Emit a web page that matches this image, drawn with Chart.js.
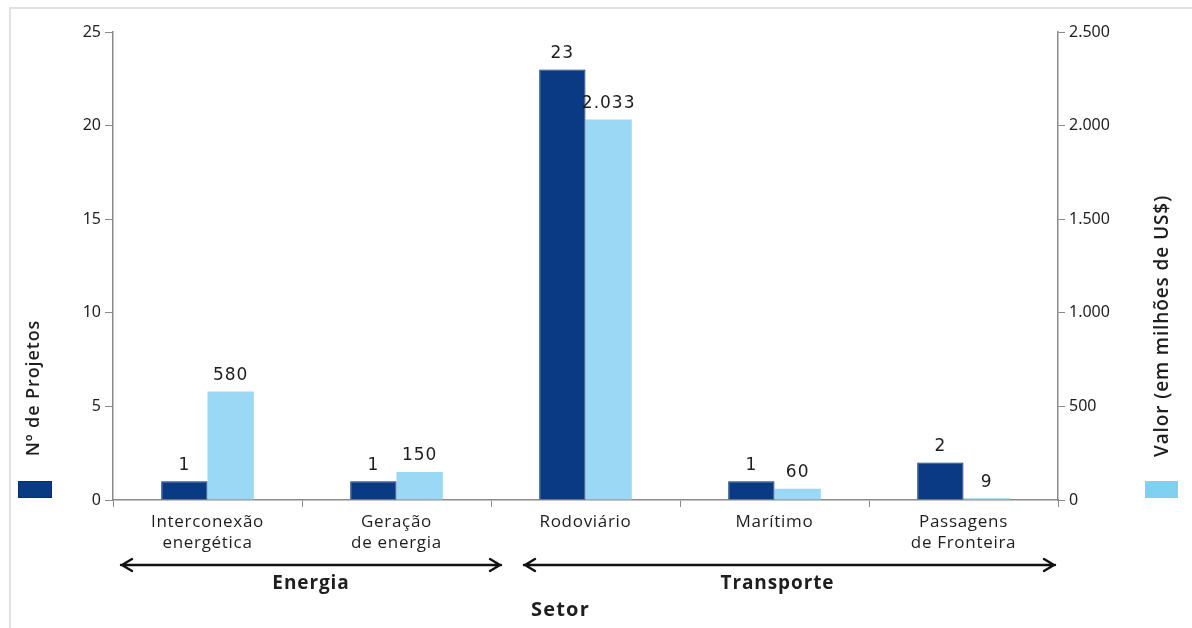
<!DOCTYPE html>
<html lang="pt-BR">
<head>
<meta charset="utf-8">
<script src="https://cdn.jsdelivr.net/npm/chart.js@4/dist/chart.umd.min.js"></script>
<style>
  html, body { margin: 0; padding: 0; background: #ffffff; }
  #wrap { width: 1192px; height: 628px; position: relative; }
</style>
</head>
<body>
<div id="wrap"><canvas id="grafico" width="1192" height="628"></canvas></div>
<script>
// Setores (rótulos do eixo X, em duas linhas quando necessário)
const setores = [
  ['Interconexão', 'energética'],
  ['Geração', 'de energia'],
  ['Rodoviário'],
  ['Marítimo'],
  ['Passagens', 'de Fronteira']
];
// Número de projetos por setor (eixo esquerdo)
const numeroProjetos = [1, 1, 23, 1, 2];
// Valor em milhões de US$ por setor (eixo direito)
const valorMilhoes = [580, 150, 2033, 60, 9];
// Marcas dos eixos
const ticksProjetos = [0, 5, 10, 15, 20, 25];
const ticksValor = [0, 500, 1000, 1500, 2000, 2500];
// Grupos de setores: índice inicial e final
const grupoNomes = ['Energia', 'Transporte'];
const grupoInicio = [0, 2];
const grupoFim = [1, 4];

const AZUL_ESCURO = '#0b3a84';
const AZUL_CLARO = '#9bd8f6';
const CINZA_EIXO = '#8a8a8a';
const TEXTO = '#1e1e1e';

function milhar(v) {
  return String(v).replace(/\B(?=(\d{3})+(?!\d))/g, '.');
}

function texto(ctx, s, x, y, font, spacing, align) {
  ctx.save();
  ctx.font = font;
  ctx.letterSpacing = (spacing || 0) + 'px';
  ctx.fillStyle = TEXTO;
  ctx.textAlign = align || 'center';
  ctx.textBaseline = 'middle';
  ctx.fillText(s, x, y);
  ctx.restore();
}

function seta(ctx, x1, x2, y) {
  ctx.save();
  ctx.strokeStyle = '#111';
  ctx.lineWidth = 2.4;
  ctx.lineCap = 'round';
  ctx.lineJoin = 'round';
  ctx.beginPath();
  ctx.moveTo(x1, y); ctx.lineTo(x2, y);
  ctx.moveTo(x1 + 11, y - 6); ctx.lineTo(x1 + 1, y); ctx.lineTo(x1 + 11, y + 6);
  ctx.moveTo(x2 - 11, y - 6); ctx.lineTo(x2 - 1, y); ctx.lineTo(x2 - 11, y + 6);
  ctx.stroke();
  ctx.restore();
}

const decoracao = {
  id: 'decoracao',
  beforeDraw(chart) {
    const ctx = chart.ctx;
    ctx.save();
    ctx.fillStyle = '#ffffff';
    ctx.fillRect(0, 0, chart.width, chart.height);
    // moldura
    ctx.strokeStyle = '#e2e2e2';
    ctx.lineWidth = 2;
    ctx.beginPath();
    ctx.moveTo(10, 628); ctx.lineTo(10, 8); ctx.lineTo(1192, 8);
    ctx.stroke();
    ctx.restore();
  },
  afterDatasetsDraw(chart) {
    const ctx = chart.ctx;
    const x = chart.scales.x;
    const area = chart.chartArea;

    // rótulos de valor sobre as barras
    chart.data.datasets.forEach((ds, di) => {
      const meta = chart.getDatasetMeta(di);
      meta.data.forEach((bar, i) => {
        texto(ctx, milhar(ds.data[i]), bar.x, bar.y - 16,
          '17px "DejaVu Sans"', 1, 'center');
      });
    });

    // rótulos das categorias
    setores.forEach((linhas, i) => {
      const cx = x.getPixelForValue(i);
      linhas.forEach((l, k) => {
        texto(ctx, l, cx, area.bottom + 22 + k * 21, '17px "Open Sans"', 0.7, 'center');
      });
    });

    // setas e nomes dos grupos
    const passo = (area.right - area.left) / setores.length;
    grupoNomes.forEach((nome, g) => {
      const ini = x.getPixelForValue(grupoInicio[g]) - passo / 2;
      const fim = x.getPixelForValue(grupoFim[g]) + passo / 2;
      const x1 = g === 0 ? ini + 8 : ini + 33;
      const x2 = g === 0 ? fim + 10 : fim - 3;
      seta(ctx, x1, x2, area.bottom + 65);
      texto(ctx, nome, (x1 + x2) / 2 + (g === 0 ? 0 : -12), area.bottom + 84,
        'bold 19px "Open Sans"', 0.9, 'center');
    });
    texto(ctx, 'Setor', (area.left + area.right) / 2 - 25, area.bottom + 110,
      'bold 20px "Open Sans"', 1.2, 'center');

    // títulos dos eixos (verticais)
    ctx.save();
    ctx.translate(34, 388);
    ctx.rotate(-Math.PI / 2);
    texto(ctx, 'Nº de Projetos', 0, 0, '600 18px "Open Sans"', 0.9, 'center');
    ctx.restore();
    ctx.save();
    ctx.translate(1163, 326);
    ctx.rotate(-Math.PI / 2);
    texto(ctx, 'Valor (em milhões de US$)', 0, 0, '600 19px "Open Sans"', 0.9, 'center');
    ctx.restore();

    // marcadores de legenda
    ctx.save();
    ctx.fillStyle = AZUL_ESCURO;
    ctx.fillRect(18, 481, 34, 17);
    ctx.strokeStyle = '#06306e';
    ctx.lineWidth = 1;
    ctx.strokeRect(18.5, 481.5, 33, 16);
    ctx.fillStyle = '#7fd0f1';
    ctx.fillRect(1145, 481, 33, 17);
    ctx.restore();
  }
};

new Chart(document.getElementById('grafico'), {
  type: 'bar',
  data: {
    labels: setores.map(l => l.join(' ')),
    datasets: [
      {
        label: 'Nº de Projetos',
        data: numeroProjetos,
        yAxisID: 'y',
        backgroundColor: AZUL_ESCURO,
        borderColor: '#06306e',
        borderWidth: 1,
        categoryPercentage: 0.49,
        barPercentage: 1
      },
      {
        label: 'Valor (em milhões de US$)',
        data: valorMilhoes,
        yAxisID: 'y1',
        backgroundColor: AZUL_CLARO,
        borderWidth: 0,
        categoryPercentage: 0.49,
        barPercentage: 1
      }
    ]
  },
  options: {
    responsive: false,
    animation: false,
    devicePixelRatio: 1,
    layout: { padding: { top: 32, left: 0, right: 0, bottom: 0 } },
    plugins: {
      legend: { display: false },
      tooltip: { enabled: false },
      title: { display: false }
    },
    scales: {
      x: {
        offset: true,
        ticks: { display: false },
        grid: {
          offset: true,
          drawOnChartArea: false,
          drawTicks: true,
          tickLength: 7,
          color: CINZA_EIXO
        },
        border: { color: CINZA_EIXO, width: 1.5 },
        afterFit(s) { s.height = 128; }
      },
      y: {
        position: 'left',
        min: 0,
        max: 25,
        afterBuildTicks(s) { s.ticks = ticksProjetos.map(v => ({ value: v })); },
        ticks: {
          font: { family: '"Noto Sans"', size: 16 },
          color: TEXTO,
          padding: 4
        },
        grid: { drawOnChartArea: false, tickLength: 8, color: CINZA_EIXO },
        border: { color: CINZA_EIXO, width: 1.5 },
        afterFit(s) { s.width = 113; }
      },
      y1: {
        position: 'right',
        min: 0,
        max: 2500,
        afterBuildTicks(s) { s.ticks = ticksValor.map(v => ({ value: v })); },
        ticks: {
          font: { family: '"Noto Sans"', size: 16 },
          color: TEXTO,
          padding: 4,
          callback: v => milhar(v)
        },
        grid: { drawOnChartArea: false, tickLength: 7, color: CINZA_EIXO },
        border: { color: CINZA_EIXO, width: 1.5 },
        afterFit(s) { s.width = 134; }
      }
    }
  },
  plugins: [decoracao]
});
</script>
</body>
</html>
